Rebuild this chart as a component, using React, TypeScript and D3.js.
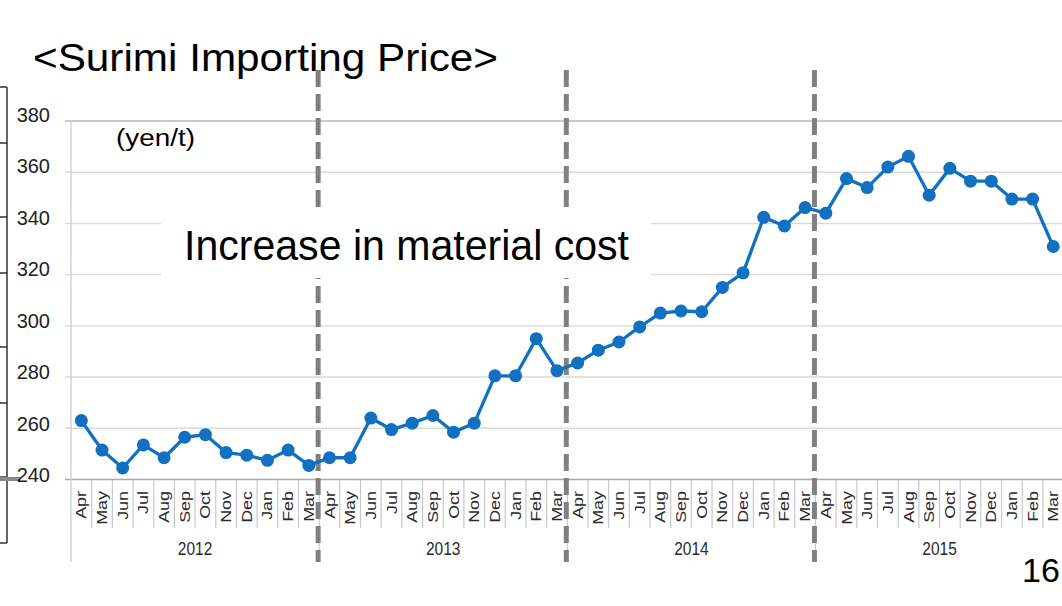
import React from "react";
import * as d3 from "d3";

const months = ["Apr", "May", "Jun", "Jul", "Aug", "Sep", "Oct", "Nov", "Dec", "Jan", "Feb", "Mar"];
const years = ["2012", "2013", "2014", "2015"];
const prices2012 = [263, 251.5, 244.5, 253.5, 248.5, 256.5, 257.5, 250.5, 249.5, 247.5, 251.5, 245.5];
const prices2013 = [248.5, 248.5, 264, 259.5, 262, 265, 258.5, 262, 280.5, 280.5, 295, 282.5];
const prices2014 = [285.5, 290.5, 293.7, 299.6, 305, 305.8, 305.5, 315, 320.7, 342.4, 339, 346.2];
const prices2015 = [344, 357.5, 354, 362, 366.2, 351, 361.5, 356.5, 356.5, 349.5, 349.5, 331];
const yTicks = [240, 260, 280, 300, 320, 340, 360, 380];
const titleText = "<Surimi Importing Price>";
const unitText = "(yen/t)";
const noteText = "Increase in material cost";
const pageNumber = "16";
const dividerYears = [1, 2, 3];
const tableLines = [87, 143, 217, 273, 347, 403, 477, 543];

const values = [...prices2012, ...prices2013, ...prices2014, ...prices2015];
const points = values.map((v, i) => ({ i, v, month: months[i % 12] }));

export default function App() {
  const W = 1062, H = 606;
  const x = d3.scaleBand<number>().domain(points.map(p => p.i)).range([71, 1063.6]).paddingInner(0).paddingOuter(0);
  const bw = x.bandwidth();
  const cx = (i: number) => (x(i) as number) + bw / 2;
  const y = d3.scaleLinear().domain([240, 380]).range([479.5, 121]);
  const yLab = d3.scaleLinear().domain([240, 380]).range([482, 122]);
  const line = d3.line<{ i: number; v: number }>().x(p => cx(p.i)).y(p => y(p.v));
  const blue = "#1170c2";
  const font = "'Liberation Sans', Arial, sans-serif";

  return (
    <svg width={W} height={H} style={{ position: "absolute", left: 0, top: 0, background: "#fff" }} fontFamily={font}>
      <rect x={0} y={0} width={W} height={H} fill="#fff" />
      {/* left table remnant */}
      <line x1={7} x2={7} y1={87} y2={543} stroke="#333" strokeWidth={1.5} />
      {tableLines.map((ty, k) => (
        <line key={k} x1={0} x2={7} y1={ty} y2={ty} stroke="#333" strokeWidth={1.5} />
      ))}
      <line x1={0} x2={20} y1={479} y2={479} stroke="#8a8a8a" strokeWidth={4} />

      {/* gridlines */}
      {yTicks.map(t => (
        <line key={t} x1={65} x2={1064} y1={y(t)} y2={y(t)}
          stroke={t === 380 ? "#b8b8b8" : t === 240 ? "#a8a8a8" : "#d9d9d9"} strokeWidth={t === 240 ? 1.6 : 1.4} />
      ))}
      {/* y axis line */}
      <line x1={71} x2={71} y1={121} y2={562} stroke="#d0d0d0" strokeWidth={1.4} />
      {yTicks.map(t => (
        <text key={t} x={50} y={yLab(t)} textAnchor="end" fontSize={20} fill="#222">{t}</text>
      ))}

      {/* category separators */}
      {points.map(p => (
        <line key={p.i} x1={(x(p.i) as number) + bw} x2={(x(p.i) as number) + bw} y1={480} y2={p.i % 12 === 11 ? 562 : 528}
          stroke="#c8c8c8" strokeWidth={1.2} />
      ))}
      {/* month labels */}
      {points.map(p => (
        <text key={p.i} transform={`translate(${cx(p.i)},491) rotate(-90) scale(1.28,1)`} textAnchor="end" dy="0.36em"
          fontSize={14} fill="#2a2a2a">{p.month}</text>
      ))}
      {/* year labels */}
      {years.map((yr, k) => {
        const gx = ((x(k * 12) as number) + (x(k * 12 + 11) as number) + bw) / 2;
        return (
          <text key={yr} transform={`translate(${gx},555) scale(1,1.22)`} textAnchor="middle"
            fontSize={15.5} fill="#2a2a2a">
            {yr}
          </text>
        );
      })}

      {/* dashed dividers */}
      {dividerYears.map(k => (
        <line key={k} x1={(x(k * 12) as number) - 1} x2={(x(k * 12) as number) - 1} y1={70} y2={562}
          stroke="#808080" strokeWidth={5} strokeDasharray="17 7" />
      ))}

      {/* note box */}
      <rect x={161} y={207} width={490} height={71} fill="#fff" />
      <text x={184} y={260} fontSize={43} fill="#000" textLength={445} lengthAdjust="spacingAndGlyphs">{noteText}</text>

      {/* data line */}
      <path d={line(points) || ""} fill="none" stroke={blue} strokeWidth={3.3} strokeLinejoin="round" />
      {points.map(p => (
        <circle key={p.i} cx={cx(p.i)} cy={y(p.v)} r={6.5} fill={blue} />
      ))}

      {/* texts */}
      <text x={33} y={71} fontSize={39} fill="#000" textLength={465} lengthAdjust="spacingAndGlyphs">{titleText}</text>
      <text x={116} y={146} fontSize={23} fill="#000" textLength={79} lengthAdjust="spacingAndGlyphs">{unitText}</text>
      <text x={1022} y={582} fontSize={34} fill="#000">{pageNumber}</text>
    </svg>
  );
}
